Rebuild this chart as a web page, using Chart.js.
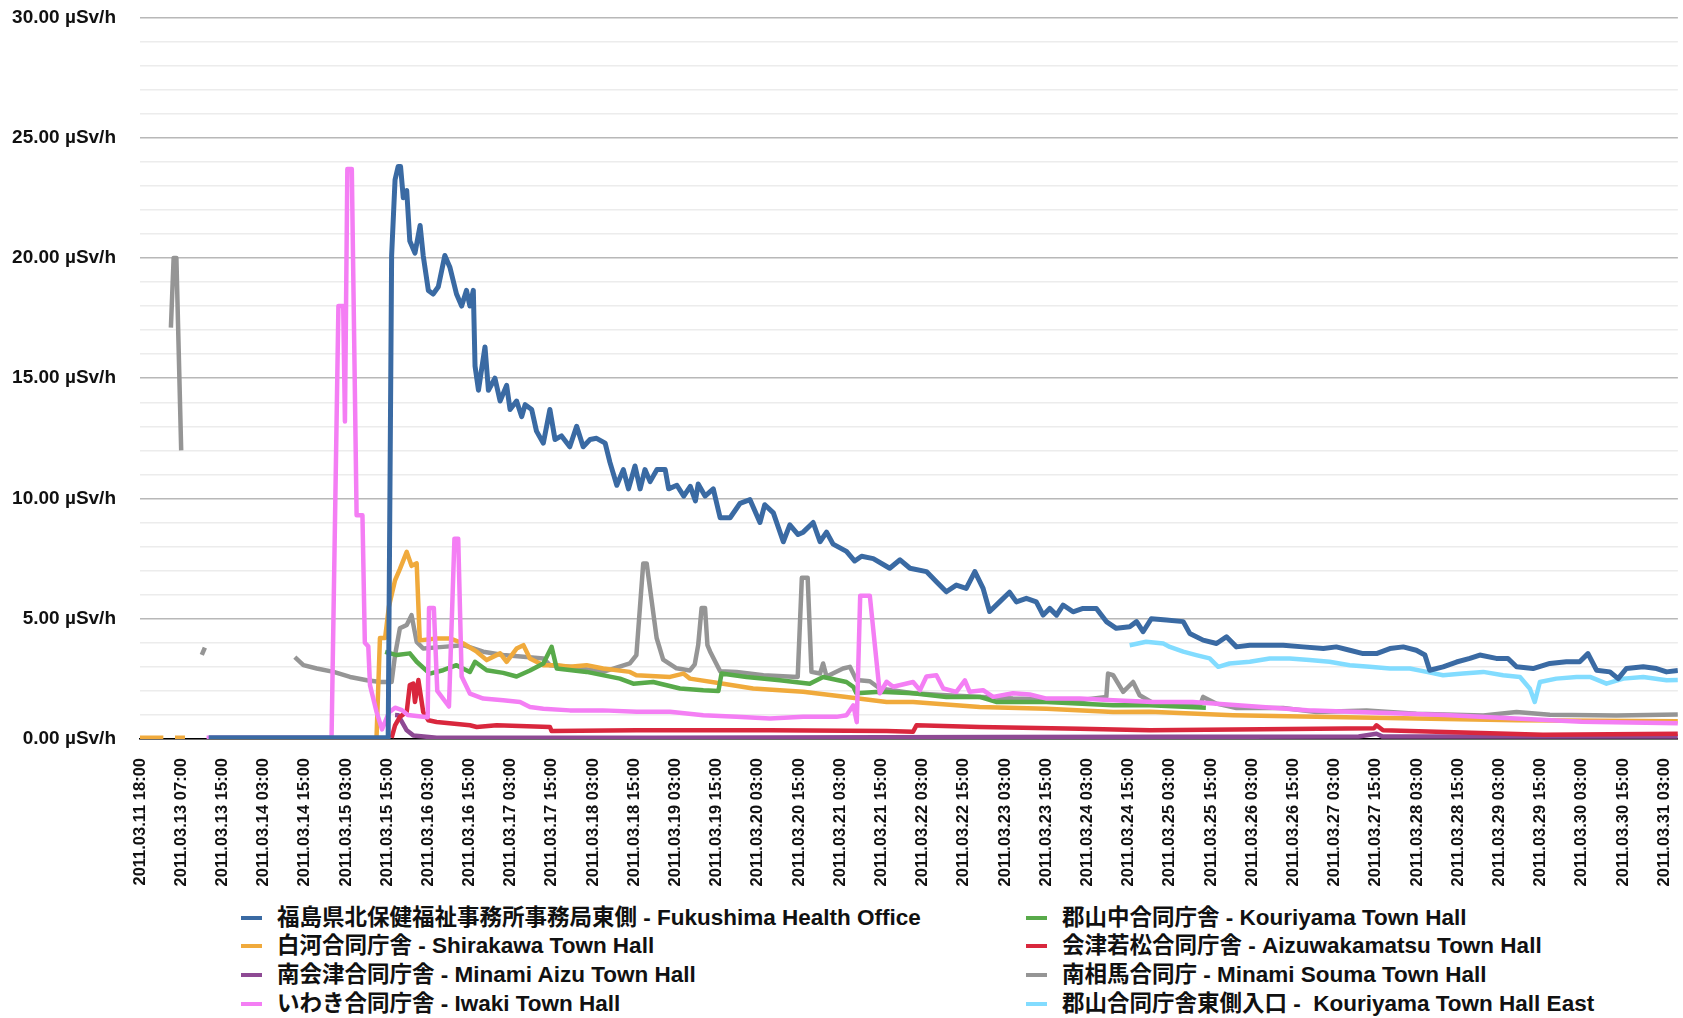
<!DOCTYPE html>
<html>
<head>
<meta charset="utf-8">
<title>Fukushima µSv/h</title>
<script src="https://cdn.jsdelivr.net/npm/chart.js@4.4.0/dist/chart.umd.min.js"></script>
<style>
  body { margin: 0; background: #fff; }
  #wrap { position: relative; width: 1683px; height: 1018px; overflow: hidden; }
  #box { position: absolute; left: 0; top: -18px; width: 1695px; height: 915px; }
  .item { position: absolute; font: bold 22.5px "Liberation Sans", "Noto Sans CJK JP", sans-serif; color: #111; white-space: pre; line-height: 28px; }
  .item i { position: absolute; left: -36px; top: 12px; width: 21px; height: 4px; }
</style>
</head>
<body>
<div id="wrap">
  <div id="box"><canvas id="doseChart"></canvas></div>
  <div id="legend"></div>
</div>
<script>
// tick labels, one every 12 samples
const tickLabels = [
  '2011.03.11 18:00', '2011.03.13 07:00', '2011.03.13 15:00', '2011.03.14 03:00', '2011.03.14 15:00',
  '2011.03.15 03:00', '2011.03.15 15:00', '2011.03.16 03:00', '2011.03.16 15:00', '2011.03.17 03:00',
  '2011.03.17 15:00', '2011.03.18 03:00', '2011.03.18 15:00', '2011.03.19 03:00', '2011.03.19 15:00',
  '2011.03.20 03:00', '2011.03.20 15:00', '2011.03.21 03:00', '2011.03.21 15:00', '2011.03.22 03:00',
  '2011.03.22 15:00', '2011.03.23 03:00', '2011.03.23 15:00', '2011.03.24 03:00', '2011.03.24 15:00',
  '2011.03.25 03:00', '2011.03.25 15:00', '2011.03.26 03:00', '2011.03.26 15:00', '2011.03.27 03:00',
  '2011.03.27 15:00', '2011.03.28 03:00', '2011.03.28 15:00', '2011.03.29 03:00', '2011.03.29 15:00',
  '2011.03.30 03:00', '2011.03.30 15:00', '2011.03.31 03:00'
];

const seriesNames = [
  '福島県北保健福祉事務所事務局東側 - Fukushima Health Office',
  '白河合同庁舎 - Shirakawa Town Hall',
  '南会津合同庁舎 - Minami Aizu Town Hall',
  'いわき合同庁舎 - Iwaki Town Hall',
  '郡山中合同庁舎 - Kouriyama Town Hall',
  '会津若松合同庁舎 - Aizuwakamatsu Town Hall',
  '南相馬合同庁 - Minami Souma Town Hall',
  '郡山合同庁舎東側入口 -  Kouriyama Town Hall East'
];

// [sample index, µSv/h]  (null = no reading)
const fukushima = [[20,0.05],[72.3,0.05],[73.3,20.1],[74.3,23.25],[75.2,23.8],[75.9,23.8],[76.7,22.5],[77.7,22.8],
  [78.6,20.7],[80.1,20.2],[81.6,21.35],[82.5,20.1],[84,18.65],[85.4,18.5],[86.9,18.8],[88.8,20.1],[90.3,19.6],
  [92.2,18.5],[93.7,18],[95.1,18.65],[96.1,18],[97.1,18.65],[97.6,15.5],[98.6,14.5],[100.5,16.3],[101.5,14.5],
  [103.4,15],[104.9,14.05],[106.8,14.7],[107.8,13.7],[109.7,14.05],[111.2,13.4],[112.2,13.9],[114.1,13.7],
  [115.5,12.8],[117.5,12.3],[119.4,13.7],[120.9,12.45],[122.8,12.6],[125.2,12.15],[127.2,13],[129.1,12.15],
  [131.1,12.45],[133,12.5],[135.5,12.3],[136.9,11.5],[138.9,10.55],[140.8,11.2],[142.3,10.4],[144.2,11.35],
  [145.7,10.4],[147.1,11.2],[148.6,10.7],[150.6,11.2],[153,11.2],[154,10.4],[156.4,10.55],[158.4,10.1],
  [160.3,10.5],[161.8,9.9],[162.6,10.6],[164.6,10.1],[167,10.4],[169,9.2],[171.9,9.2],[174.8,9.8],[177.7,9.95],
  [180.6,9],[182,9.74],[184.5,9.4],[187.4,8.2],[189.3,8.9],[191.7,8.5],[193.2,8.6],[196.1,9],[198.1,8.2],
  [200,8.6],[201.9,8.1],[205.8,7.8],[208.2,7.4],[210.2,7.6],[213.6,7.5],[218.4,7.1],[221.4,7.45],[224.3,7.1],
  [229.1,6.96],[232,6.54],[234.9,6.12],[237.8,6.4],[240.7,6.26],[243.2,6.96],[245.6,6.26],[247.5,5.3],
  [250.4,5.7],[253.3,6.1],[255.3,5.7],[258.2,5.85],[261.1,5.7],[263.1,5.15],[265,5.43],[267,5.15],[268.9,5.57],
  [271.8,5.29],[274.7,5.43],[278.6,5.43],[281.5,4.88],[284.4,4.6],[288.3,4.67],[290.3,4.88],[292.2,4.46],
  [294.6,5],[299,4.95],[303.9,4.88],[305.8,4.39],[309.7,4.11],[313.6,3.97],[316.5,4.25],[319.4,3.83],[323.3,3.9],
  [327.2,3.9],[333,3.9],[338.8,3.83],[344.7,3.76],[348.5,3.83],[352.4,3.69],[356.3,3.55],[360.2,3.55],
  [364.1,3.76],[368,3.83],[371.8,3.69],[374.3,3.49],[375.7,2.86],[379.6,3],[383.5,3.2],[387.4,3.35],[390.3,3.49],
  [395.1,3.35],[398.5,3.35],[401,3],[405.8,2.93],[410.7,3.14],[415.5,3.21],[419.4,3.21],[421.8,3.55],
  [424.3,2.86],[428.2,2.79],[430.6,2.51],[433,2.93],[437.9,3],[441.8,2.93],[444.7,2.79],[448,2.85]];

const shirakawa = [[0,0.05],[6.8,0.05],[8,null],[10.2,0.05],[13.1,0.05],[14,null],[68.9,0.05],[69.9,4.2],
  [71.4,4.2],[72.5,5.5],[74.3,6.6],[75.7,7.06],[77.7,7.78],[79.1,7.2],[80.6,7.3],[81.5,4.1],[86.4,4.18],
  [90.3,4.18],[94.2,3.97],[98.1,3.63],[101,3.28],[104.9,3.56],[106.8,3.21],[109.7,3.76],[111.7,3.9],[113.6,3.35],
  [117.5,3.07],[121.4,3.07],[125.2,3],[130.1,3.07],[134.9,2.93],[142.7,2.79],[144.6,2.65],[154.4,2.58],
  [158.3,2.72],[160.2,2.51],[169.9,2.3],[178.6,2.1],[186.4,2.03],[193.2,1.96],[205.8,1.75],[217.5,1.54],
  [225.2,1.54],[244.6,1.33],[264.1,1.26],[283.5,1.12],[294.2,1.13],[318.4,0.99],[342.7,0.92],[371.8,0.85],
  [401,0.78],[448,0.74]];

const minamiAizu = [[74.3,1],[75.2,0.99],[77.7,0.36],[79.6,0.15],[86.4,0.05],[150,0.05],[250,0.08],[355,0.1],
  [360.2,0.22],[362,0.1],[448,0.1]];

const iwaki = [[19.4,0.05],[55.8,0.05],[57.8,18],[59.2,18],[59.7,13.2],[60.4,23.7],[61.7,23.7],[63.1,9.3],
  [64.8,9.3],[65.5,4],[66.5,3.85],[67,2.24],[68.9,1.13],[70.5,0.4],[72.5,1.1],[74.3,1.3],[76.3,1.2],[78,1],
  [83.8,0.9],[84.2,5.45],[85.6,5.45],[86.6,2],[90,1.35],[91.6,8.33],[92.7,8.33],[93.7,2.6],[96.1,1.89],
  [100,1.68],[105.8,1.61],[110.7,1.54],[113.6,1.33],[117.5,1.26],[125.2,1.19],[134.9,1.19],[144.7,1.13],
  [154.4,1.13],[164.1,0.99],[173.8,0.92],[183.5,0.85],[193.2,0.92],[202.9,0.92],[205.8,0.99],[207.8,1.4],
  [208.8,0.7],[209.8,5.96],[212.6,5.96],[215.5,1.9],[217.5,2.38],[219.4,2.17],[225.2,2.37],[227.2,2.03],
  [229.1,2.6],[232,2.65],[234,2.1],[237.8,1.96],[240.3,2.44],[241.7,1.96],[245.6,2.03],[248.5,1.75],[254.3,1.9],
  [259.2,1.85],[264.1,1.68],[273.8,1.68],[283.5,1.61],[295.1,1.54],[306.7,1.54],[340,1.2],[380,1],[420,0.72],
  [448,0.65]];

const kouriyama = [[71.4,3.62],[74.8,3.49],[78.6,3.56],[80.6,3.21],[84.4,2.72],[88.3,2.86],[92.2,3.07],
  [96.1,2.79],[97.6,3.21],[101,2.86],[105.8,2.75],[109.7,2.6],[113.6,2.85],[117.5,3.14],[119.9,3.83],
  [121.4,2.93],[130.1,2.79],[139.8,2.51],[143.7,2.3],[149.5,2.37],[157.3,2.1],[164.1,2.03],[168.5,2],
  [169.4,2.72],[176.7,2.58],[186.4,2.44],[195.1,2.3],[199,2.58],[205.8,2.37],[207.8,2.17],[208.7,1.9],
  [215.5,1.96],[225.2,1.9],[234.9,1.75],[244.6,1.75],[249.4,1.54],[264.1,1.54],[283.5,1.4],[294.2,1.4],
  [310.5,1.3]];

const aizuwakamatsu = [[73.3,0.05],[74.3,0.57],[75.7,0.92],[77.7,1.13],[78.6,2.24],[79.6,2.3],[80.1,1.54],
  [81.1,2.45],[82.5,1.13],[84,0.78],[86.4,0.71],[96.1,0.57],[98.1,0.5],[103.9,0.57],[119.4,0.5],[119.9,0.33],
  [144.7,0.36],[183.5,0.36],[217.5,0.33],[225.2,0.3],[226.2,0.57],[244.6,0.5],[273.8,0.43],[294.2,0.36],
  [359.5,0.45],[360.2,0.57],[362.1,0.36],[408.7,0.18],[448,0.22]];

const minamiSouma = [[9,17.1],[9.8,20],[10.6,20],[12,12],[15,null],[18,3.5],[18.9,3.8],[30,null],[45.1,3.4],
  [47.6,3.07],[51.5,2.93],[56.4,2.79],[61.2,2.58],[66.1,2.44],[70,2.37],[73.3,2.37],[74.3,3.49],[75.7,4.6],
  [77.7,4.74],[79.1,5.15],[80.6,4.04],[82.5,3.76],[88.3,3.83],[94.2,3.9],[100,3.63],[105.8,3.49],[111.7,3.42],
  [117.5,3.35],[119.4,3.07],[125.2,3],[134.9,2.79],[142.7,3.14],[144.6,3.49],[146.6,7.3],[147.6,7.3],[149,5.8],
  [150.5,4.2],[152.4,3.3],[156.3,2.94],[160.2,2.85],[161.6,3.1],[162.6,3.9],[163.6,5.45],[164.6,5.45],
  [165.3,3.9],[166.1,3.63],[169,2.82],[173.8,2.79],[181.6,2.65],[191.6,2.58],[192.8,6.7],[194.5,6.7],
  [195.6,2.79],[198.1,2.72],[199,3.14],[200,2.6],[204.8,2.93],[206.8,3],[208.7,2.45],[212.6,2.4],[215.5,2.1],
  [225.2,1.9],[234.9,1.82],[254.3,1.68],[273.8,1.61],[281.5,1.75],[282,2.72],[283.5,2.65],[286.4,1.96],
  [289.3,2.37],[291.2,1.82],[295.1,1.5],[308.8,1.4],[309.7,1.75],[313.6,1.47],[319.4,1.29],[333,1.29],
  [342.7,1.12],[357.3,1.19],[371.8,1.05],[391.3,0.98],[401,1.12],[410.7,1.01],[430.1,0.98],[448,1.02]];

const kouriyamaEast = [[288.3,3.9],[293.1,4.04],[298.1,3.97],[300,3.83],[303.9,3.63],[307.7,3.49],[311.6,3.35],
  [314.1,3],[317.4,3.14],[323.3,3.21],[329.1,3.35],[334.9,3.35],[340.7,3.28],[346.5,3.21],[352.4,3.07],
  [358.2,3],[364.1,2.93],[369.9,2.93],[374.8,2.79],[379.6,2.65],[385.4,2.72],[391.3,2.79],[397.1,2.65],
  [402,2.58],[404.9,2.09],[406.3,1.54],[407.8,2.37],[412.6,2.51],[418.5,2.58],[422.4,2.58],[427.2,2.3],
  [432.1,2.51],[437.9,2.58],[444.7,2.44],[448,2.45]];

const series = [fukushima, shirakawa, minamiAizu, iwaki, kouriyama, aizuwakamatsu, minamiSouma, kouriyamaEast];
const colors = ['#3a6aa3', '#f0aa3c', '#8e4a94', '#f47ef4', '#58aa4a', '#d9273d', '#959595', '#82dcff'];
const widths = [5, 4.5, 4.5, 4.5, 4.5, 4.5, 4.5, 4.5];
// lower = drawn on top
const layer = [0, 3, 6, 1, 2, 5, 4, 7];

const datasets = series.map((s, i) => ({
  label: seriesNames[i],
  data: s.map(p => ({ x: p[0], y: p[1] })),
  borderColor: colors[i],
  backgroundColor: colors[i],
  borderWidth: widths[i],
  pointRadius: 0,
  tension: 0,
  spanGaps: false,
  borderJoinStyle: 'round',
  order: layer[i]
}));

new Chart(document.getElementById('doseChart'), {
  type: 'line',
  data: { datasets: datasets },
  options: {
    responsive: true,
    maintainAspectRatio: false,
    animation: false,
    devicePixelRatio: 1,
    layout: { padding: { top: 8, right: 5, left: 0, bottom: 0 } },
    plugins: { legend: { display: false }, tooltip: { enabled: false } },
    scales: {
      x: {
        type: 'linear',
        min: 0,
        max: 448,
        afterBuildTicks: s => { s.ticks = tickLabels.map((_, i) => ({ value: i * 12 })); },
        afterFit: s => { s.height = 158; },
        grid: { display: false },
        border: { color: '#000', width: 1.5 },
        ticks: {
          autoSkip: false,
          minRotation: 90,
          maxRotation: 90,
          padding: 11,
          color: '#111',
          font: { family: '"Liberation Sans", Arial, sans-serif', size: 16.5, weight: 'bold' },
          callback: (v, i) => tickLabels[i]
        }
      },
      y: {
        min: 0,
        max: 30,
        afterFit: s => { s.width = 140; },
        border: { display: false },
        grid: {
          color: c => (c.tick.value % 5 === 0 ? '#b8b8b8' : '#ececec'),
          lineWidth: 1.5,
          drawTicks: false
        },
        ticks: {
          stepSize: 1,
          autoSkip: false,
          padding: 24,
          color: '#111',
          font: { family: '"Liberation Sans", Arial, sans-serif', size: 19, weight: 'bold' },
          callback: v => (v % 5 === 0 ? v.toFixed(2) + ' µSv/h' : '')
        }
      }
    }
  }
});

// two-column legend below the chart
const legend = document.getElementById('legend');
const colLeft = [277, 1062];
const rowTop = [904, 932, 961, 990];
seriesNames.forEach((name, i) => {
  const el = document.createElement('div');
  el.className = 'item';
  el.style.left = colLeft[Math.floor(i / 4)] + 'px';
  el.style.top = rowTop[i % 4] + 'px';
  el.innerHTML = '<i style="background:' + colors[i] + '"></i>';
  el.appendChild(document.createTextNode(name));
  legend.appendChild(el);
});
</script>
</body>
</html>
